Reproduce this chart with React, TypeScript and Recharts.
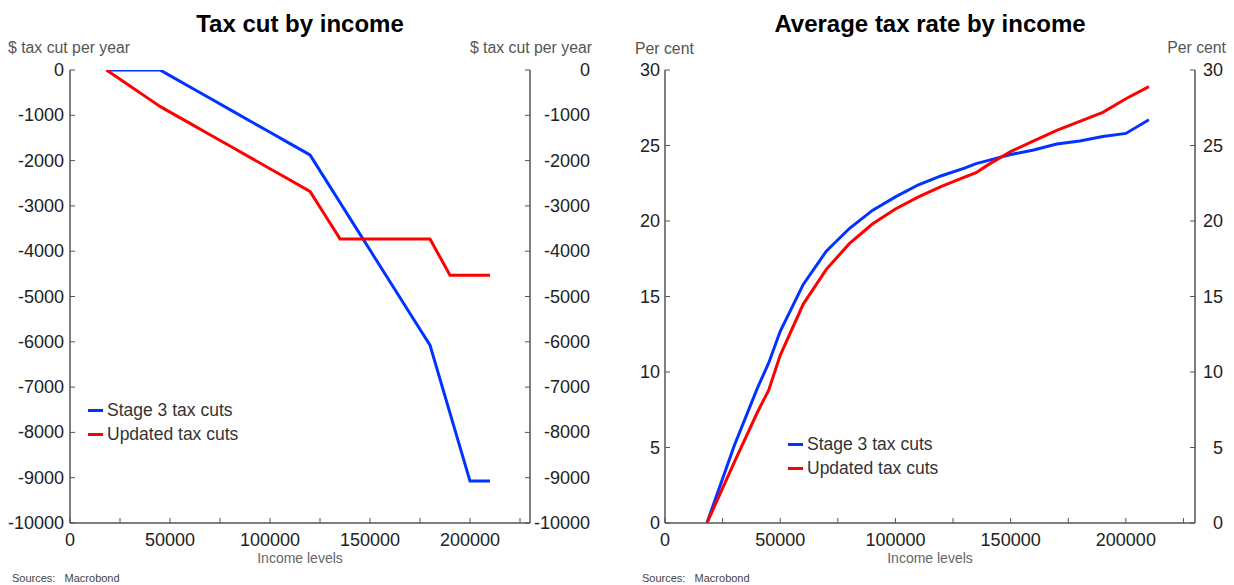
import React from 'react';
import { LineChart, Line, XAxis, YAxis, Legend } from 'recharts';

// income points shared by both panels
const incomes = [
  18200, 30000, 40000, 45000, 50000, 60000, 70000, 80000, 90000, 100000, 110000,
  120000, 130000, 135000, 140000, 150000, 160000, 170000, 180000, 190000, 200000, 210000,
];

// $ tax cut per year
const stage3Cut = [
  0, 0, 0, 0, -125, -375, -625, -875, -1125, -1375, -1625,
  -1875, -2575, -2925, -3275, -3975, -4675, -5375, -6075, -7575, -9075, -9075,
];
const updatedCut = [
  0, -354, -654, -804, -929, -1179, -1429, -1679, -1929, -2179, -2429,
  -2679, -3379, -3729, -3729, -3729, -3729, -3729, -3729, -4529, -4529, -4529,
];

// average tax rate, per cent
const stage3Rate = [
  0, 5.1, 8.9, 10.6, 12.7, 15.8, 18.0, 19.5, 20.7, 21.6, 22.4,
  23.0, 23.5, 23.8, 24.0, 24.4, 24.7, 25.1, 25.3, 25.6, 25.8, 26.7,
];
const updatedRate = [
  0, 4.0, 7.3, 8.8, 11.1, 14.5, 16.8, 18.5, 19.8, 20.8, 21.6,
  22.3, 22.9, 23.2, 23.7, 24.6, 25.3, 26.0, 26.6, 27.2, 28.1, 28.9,
];

const xTicks = [0, 25000, 50000, 75000, 100000, 125000, 150000, 175000, 200000, 225000];
const cutTicks = [0, -1000, -2000, -3000, -4000, -5000, -6000, -7000, -8000, -9000, -10000];
const rateTicks = [0, 5, 10, 15, 20, 25, 30];

const cutData = incomes.map((income, i) => ({
  income,
  stage3: stage3Cut[i],
  updated: updatedCut[i],
}));
const rateData = incomes.map((income, i) => ({
  income,
  stage3: stage3Rate[i],
  updated: updatedRate[i],
}));

const BLUE = '#0033ff';
const RED = '#ff0000';
const AXIS = '#555';
const FONT = '"Liberation Sans", Arial, sans-serif';

function XTick(props: any) {
  const { x, y, payload } = props;
  const showLabel = payload.value % 50000 === 0;
  return (
    <g>
      <line x1={x} x2={x} y1={y} y2={y - 5} stroke={AXIS} strokeWidth={1} />
      {showLabel && (
        <text x={x} y={y + 23} textAnchor="middle" fontSize={18} fill="#222">
          {payload.value}
        </text>
      )}
    </g>
  );
}

// side: 1 = left axis (tick goes right), -1 = right axis (tick goes left)
function makeYTick(side: number, labelX: number) {
  return (props: any) => {
    const { x, y, payload } = props;
    return (
      <g>
        <line x1={x} x2={x + side * 5} y1={y} y2={y} stroke={AXIS} strokeWidth={1} />
        <text
          x={x + labelX}
          y={y}
          textAnchor="end"
          dominantBaseline="central"
          fontSize={18}
          fill="#222"
        >
          {payload.value}
        </text>
      </g>
    );
  };
}

function LegendBox(props: any) {
  const { payload } = props;
  return (
    <div style={{ fontFamily: FONT }}>
      {(payload || []).map((p: any) => (
        <div key={p.value} style={{ display: 'flex', alignItems: 'center', height: 24 }}>
          <span style={{ width: 15, height: 3, background: p.color, marginRight: 4 }} />
          <span style={{ fontSize: 17.5, color: '#333' }}>{p.value}</span>
        </div>
      ))}
    </div>
  );
}

const abs = (style: React.CSSProperties): React.CSSProperties => ({
  position: 'absolute',
  whiteSpace: 'nowrap',
  ...style,
});

const axisCommon = {
  tickSize: 0,
  tickMargin: 0,
  tickLine: false,
  interval: 0 as const,
  allowDataOverflow: true,
  axisLine: { stroke: AXIS, strokeWidth: 1.5 },
};

export default function App() {
  return (
    <div
      style={{
        position: 'absolute',
        left: 0,
        top: 0,
        width: 1234,
        height: 585,
        overflow: 'hidden',
        background: '#fff',
        fontFamily: FONT,
      }}
    >
      {/* left panel */}
      <div style={abs({ left: 0, top: 10, width: 600, textAlign: 'center', fontSize: 24, fontWeight: 'bold', lineHeight: '28px', color: '#000' })}>
        Tax cut by income
      </div>
      <div style={abs({ left: 8, top: 39, fontSize: 15.8, lineHeight: '18px', color: '#555' })}>$ tax cut per year</div>
      <div style={abs({ right: 1234 - 592, top: 39, fontSize: 15.8, lineHeight: '18px', color: '#555' })}>$ tax cut per year</div>
      <div style={abs({ left: 0, top: 0 })}>
        <LineChart width={620} height={585} data={cutData} margin={{ top: 70, right: 0, bottom: 0, left: 0 }}>
          <XAxis
            dataKey="income"
            type="number"
            domain={[0, 230000]}
            ticks={xTicks}
            height={62}
            tick={XTick}
            {...axisCommon}
          />
          <YAxis
            yAxisId="l"
            type="number"
            domain={[-10000, 0]}
            ticks={cutTicks}
            width={70}
            tick={makeYTick(1, -6)}
            {...axisCommon}
          />
          <YAxis
            yAxisId="r"
            type="number"
            orientation="right"
            domain={[-10000, 0]}
            ticks={cutTicks}
            width={90}
            tick={makeYTick(-1, 60)}
            {...axisCommon}
          />
          <Legend
            layout="vertical"
            align="center"
            verticalAlign="middle"
            content={LegendBox}
            wrapperStyle={{ left: 88, top: 398, width: 200 }}
          />
          <Line yAxisId="l" type="linear" dataKey="stage3" name="Stage 3 tax cuts" stroke={BLUE} strokeWidth={3} dot={false} isAnimationActive={false} />
          <Line yAxisId="l" type="linear" dataKey="updated" name="Updated tax cuts" stroke={RED} strokeWidth={3} dot={false} isAnimationActive={false} />
        </LineChart>
      </div>
      <div style={abs({ left: 70, top: 550, width: 460, textAlign: 'center', fontSize: 14, lineHeight: '17px', color: '#666' })}>Income levels</div>
      <div style={abs({ left: 12, top: 572, fontSize: 11, lineHeight: '12px', color: '#444' })}>Sources:&nbsp;&nbsp;&nbsp;Macrobond</div>

      {/* right panel */}
      <div style={abs({ left: 630, top: 10, width: 600, textAlign: 'center', fontSize: 24, fontWeight: 'bold', lineHeight: '28px', color: '#000' })}>
        Average tax rate by income
      </div>
      <div style={abs({ left: 635, top: 40, fontSize: 15.8, lineHeight: '18px', color: '#555' })}>Per cent</div>
      <div style={abs({ right: 1234 - 1226, top: 39, fontSize: 15.8, lineHeight: '18px', color: '#555' })}>Per cent</div>
      <div style={abs({ left: 620, top: 0 })}>
        <LineChart width={614} height={585} data={rateData} margin={{ top: 70, right: 0, bottom: 0, left: 0 }}>
          <XAxis
            dataKey="income"
            type="number"
            domain={[0, 230000]}
            ticks={xTicks}
            height={62}
            tick={XTick}
            {...axisCommon}
          />
          <YAxis
            yAxisId="l"
            type="number"
            domain={[0, 30]}
            ticks={rateTicks}
            width={45}
            tick={makeYTick(1, -5)}
            {...axisCommon}
          />
          <YAxis
            yAxisId="r"
            type="number"
            orientation="right"
            domain={[0, 30]}
            ticks={rateTicks}
            width={39}
            tick={makeYTick(-1, 28)}
            {...axisCommon}
          />
          <Legend
            layout="vertical"
            align="center"
            verticalAlign="middle"
            content={LegendBox}
            wrapperStyle={{ left: 168, top: 432, width: 200 }}
          />
          <Line yAxisId="l" type="linear" dataKey="stage3" name="Stage 3 tax cuts" stroke={BLUE} strokeWidth={3} dot={false} isAnimationActive={false} />
          <Line yAxisId="l" type="linear" dataKey="updated" name="Updated tax cuts" stroke={RED} strokeWidth={3} dot={false} isAnimationActive={false} />
        </LineChart>
      </div>
      <div style={abs({ left: 665, top: 550, width: 530, textAlign: 'center', fontSize: 14, lineHeight: '17px', color: '#666' })}>Income levels</div>
      <div style={abs({ left: 642, top: 572, fontSize: 11, lineHeight: '12px', color: '#444' })}>Sources:&nbsp;&nbsp;&nbsp;Macrobond</div>
    </div>
  );
}
